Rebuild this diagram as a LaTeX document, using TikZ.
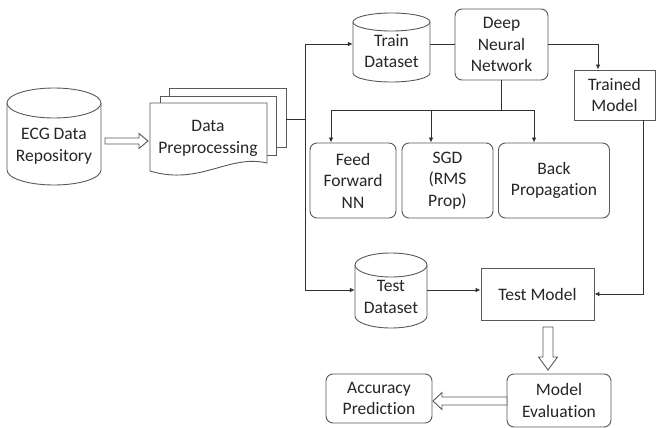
\documentclass[tikz,border=0pt]{standalone}
\usepackage{fontspec}
\setmainfont{Carlito}[Ligatures=NoCommon]
\usetikzlibrary{arrows.meta,calc}
\definecolor{linec}{HTML}{595959}
\definecolor{conc}{HTML}{303030}
\definecolor{txtc}{HTML}{262626}
\newcommand\cylpath[5]{%
 \pgfmathsetmacro\cA{(#3-#1)/2}\pgfmathsetmacro\cX{(#1+#3)/2}%
 \filldraw[shp] (#1,#2+#5) -- (#1,#4-#5) .. controls (#1,#4-#5+0.5523*#5) and (\cX-0.5523*\cA,#4) .. (\cX,#4) .. controls (\cX+0.5523*\cA,#4) and (#3,#4-#5+0.5523*#5) .. (#3,#4-#5) -- (#3,#2+#5) .. controls (#3,#2+#5-0.5523*#5) and (\cX+0.5523*\cA,#2) .. (\cX,#2) .. controls (\cX-0.5523*\cA,#2) and (#1,#2+#5-0.5523*#5) .. cycle;
 \draw[shp] (#1,#2+#5) .. controls (#1,#2+#5+0.5523*#5) and (\cX-0.5523*\cA,#2+2*#5) .. (\cX,#2+2*#5) .. controls (\cX+0.5523*\cA,#2+2*#5) and (#3,#2+#5+0.5523*#5) .. (#3,#2+#5);
}
\begin{document}
\begin{tikzpicture}[x=1pt,y=-1pt,
  shp/.style={draw=linec,line width=0.9pt,fill=white},
  txt/.style={align=center,text=txtc,font=\fontsize{17.5}{21.5}\selectfont,inner sep=0pt},
  box/.style={shp,txt,inner sep=0pt},
  rbox/.style={box,rounded corners=7pt},
  ghost/.style={inner sep=0pt,draw=none},
  conn/.style={draw=conc,line width=0.8pt},
  arr/.style={conn,-{Latex[length=5pt,width=4.5pt]}},
  fat/.style={draw=linec,line width=0.9pt,fill=white,line join=miter}]
\useasboundingbox (0,0) rectangle (656,428);

% ECG cylinder
\node[ghost,minimum width=94pt,minimum height=97pt] (ecg) at (54,136.5) {};
\cylpath{7}{88}{101}{185}{15}
\node[txt] (ecgt) at (54,146) {ECG Data\\Repository};

% multi-document
\filldraw[shp] (169,88) rectangle (286,147);
\filldraw[shp] (160,96) rectangle (276,155);
\filldraw[shp] (150,103) -- (267,103) -- (267,163) .. controls (228,154) and (200,186) .. (150,171) -- cycle;
\node[txt] (doc) at (208,138.5) {Data\\Preprocessing};
\coordinate (docR) at (286,119);
\coordinate (sp) at (305,119);
\coordinate (spT) at (305,44);
\coordinate (spB) at (305,290);

% Train dataset
\node[ghost,minimum width=77pt,minimum height=69pt] (train) at (391.5,47.5) {};
\cylpath{353}{13}{430}{82}{9}
\node[txt] (traint) at (391.5,51) {Train\\Dataset};

% DNN
\node[rbox,minimum width=93pt,minimum height=71pt] (dnn) at (501.5,44.5) {Deep\\Neural\\Network};

% Trained model
\node[box,minimum width=81pt,minimum height=50pt] (tm) at (614.5,95) {Trained\\Model};

% three method boxes
\node[rbox,minimum width=86pt,minimum height=75pt] (ff) at (353,180.5) {Feed\\Forward\\NN};
\node[rbox,minimum width=91pt,minimum height=75pt] (sgd) at (447.5,180.5) {SGD\\(RMS\\Prop)};
\node[rbox,minimum width=111pt,minimum height=75pt] (bp) at (554,180.5) {Back\\Propagation};

% Test dataset
\node[ghost,minimum width=72pt,minimum height=75pt] (test) at (391,290.5) {};
\cylpath{355}{253}{427}{328}{12}
\node[txt] (testt) at (391,297) {Test\\Dataset};

% Test model
\node[box,minimum width=113pt,minimum height=52pt] (tmod) at (537.5,294) {Test Model};

% Model evaluation, accuracy
\node[rbox,minimum width=104pt,minimum height=53pt] (eval) at (559,400.5) {Model\\Evaluation};
\node[rbox,minimum width=106pt,minimum height=49pt] (acc) at (379,398.5) {Accuracy\\Prediction};

% connectors
\draw[conn] (docR) -- (sp);
\draw[conn] (spT) -- (spB);
\draw[arr] (spT) -- (train.west |- spT);
\draw[arr] (spB) -- (test.west |- spB);
\draw[conn] (train.east |- spT) -- (dnn.west |- spT);
\coordinate (tmj) at (598,44);
\draw[arr] (dnn.east |- tmj) -- (tmj) -- (tm.north -| tmj);
\coordinate (br) at (501.5,110);
\draw[conn] (dnn.south) -- (br);
\coordinate (bL) at (331,110);
\coordinate (bM) at (431,110);
\coordinate (bR) at (534,110);
\draw[conn] (bL) -- (bR);
\draw[arr] (bL) -- (ff.north -| bL);
\draw[arr] (bM) -- (sgd.north -| bM);
\draw[arr] (bR) -- (bp.north -| bR);
\coordinate (tmd) at (643,294);
\draw[arr] (tm.south -| tmd) -- (tmd) -- (tmod.east |- tmd);
\draw[arr] (test.east |- 0,290) -- (tmod.west |- 0,290);

% fat arrows
\draw[fat] (105,138) -- (139,138) -- (139,133.5) -- (148,141) -- (139,148.5) -- (139,144) -- (105,144) -- cycle;
\draw[fat] (543,327) -- (553,327) -- (553,357) -- (557.5,357) -- (548,370) -- (538.5,357) -- (543,357) -- cycle;
\draw[fat] (507,397) -- (442,397) -- (442,392.5) -- (433,401) -- (442,409.5) -- (442,405) -- (507,405) -- cycle;
\end{tikzpicture}
\end{document}
